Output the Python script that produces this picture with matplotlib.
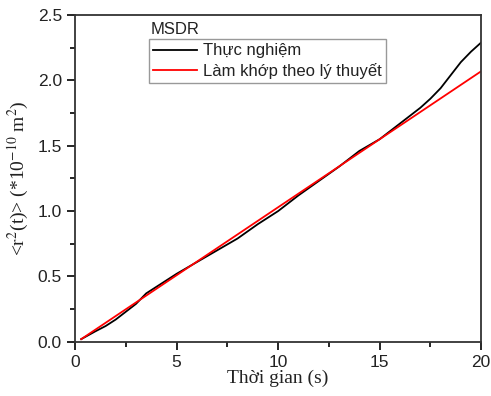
import numpy as np
import matplotlib.pyplot as plt

t_exp = [0.3, 1, 1.5, 2, 2.5, 3, 3.5, 4, 4.5, 5, 6, 7, 8, 9, 10, 10.5, 11, 12, 13,
         13.5, 14, 15, 15.5, 16, 16.5, 17, 17.5, 18, 18.5, 19, 19.5, 20]
msd_exp = [0.02, 0.08, 0.12, 0.17, 0.23, 0.29, 0.37, 0.42, 0.47, 0.52, 0.61, 0.70,
           0.79, 0.90, 1.00, 1.06, 1.12, 1.23, 1.34, 1.40, 1.46, 1.55, 1.61, 1.67,
           1.73, 1.79, 1.86, 1.94, 2.04, 2.14, 2.22, 2.29]
# theoretical fit (straight line)
t_fit = [0.3, 20]
msd_fit = [0.02, 2.07]

plt.rcParams['font.family'] = ['Liberation Sans', 'DejaVu Sans']
plt.rcParams['mathtext.fontset'] = 'stix'

fig = plt.figure(figsize=(4.91, 3.96), dpi=100)
ax = fig.add_axes([0.153, 0.137, 0.827, 0.825])

ax.plot(t_exp, msd_exp, color='black', lw=1.3, label='Thực nghiệm')
ax.plot(t_fit, msd_fit, color='red', lw=1.3, label='Làm khớp theo lý thuyết')

ax.set_xlim(0, 20)
ax.set_ylim(0, 2.5)
ax.set_xticks([0, 5, 10, 15, 20])
ax.set_yticks([0, 0.5, 1.0, 1.5, 2.0, 2.5])
ax.set_yticklabels(['0.0', '0.5', '1.0', '1.5', '2.0', '2.5'])
ax.set_xticks(np.arange(2.5, 20, 5), minor=True)
ax.set_yticks(np.arange(0.25, 2.5, 0.5), minor=True)
ax.tick_params(which='major', direction='out', length=6, width=1.2,
               labelsize=12.5, labelcolor='#222222')
ax.tick_params(which='minor', direction='out', length=3.5, width=1.2)
for s in ax.spines.values():
    s.set_linewidth(1.3)
    s.set_color('#333333')

serif = {'family': ['Liberation Serif', 'DejaVu Serif'], 'size': 14, 'color': '#222222'}
ax.set_xlabel('Thời gian (s)', fontdict=serif, labelpad=0)
ax.set_ylabel(r'<r$^2$(t)> (*10$^{-10}$ m$^2$)', fontdict=serif, labelpad=5)

ax.text(0.185, 0.955, 'MSDR', transform=ax.transAxes, fontsize=12,
        va='center', ha='left', color='#222222')
leg = ax.legend(loc='upper left', bbox_to_anchor=(0.182, 0.926), fontsize=12,
                fancybox=False, edgecolor='#999999', framealpha=1,
                handlelength=2.6, borderpad=0.25, labelspacing=0.25,
                handletextpad=0.4, borderaxespad=0)
leg.get_frame().set_linewidth(1.0)
for txt in leg.get_texts():
    txt.set_color('#222222')

fig.savefig('out.png', dpi=100)
